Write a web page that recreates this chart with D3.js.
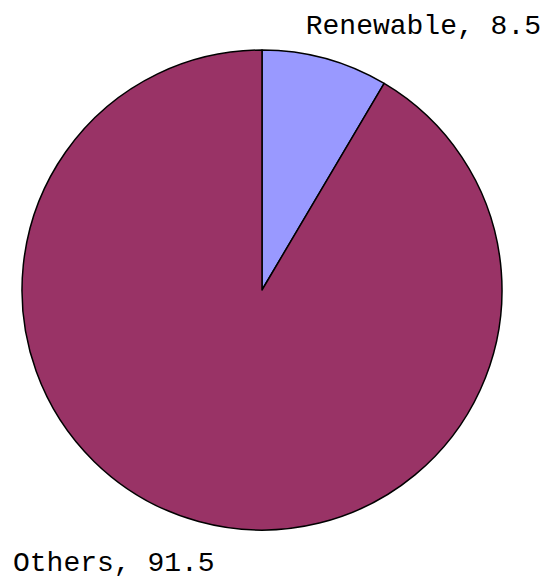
<!DOCTYPE html>
<html>
<head>
<meta charset="utf-8">
<script src="https://cdn.jsdelivr.net/npm/d3@7"></script>
<style>
  html, body { margin: 0; padding: 0; background: #fff; }
  svg text { font-family: "Liberation Mono", "DejaVu Sans Mono", monospace; fill: #000; }
</style>
</head>
<body>
<svg id="chart" width="548" height="579"></svg>
<script>
  // data
  const categories = ['Renewable', 'Others'];
  const values = [8.5, 91.5];
  const colors = ['#9999ff', '#993366'];

  const cx = 262, cy = 290, radius = 240;

  const svg = d3.select('#chart');

  const pie = d3.pie().sort(null).value(d => d.value);
  const arc = d3.arc().innerRadius(0).outerRadius(radius);

  const slices = pie(categories.map((c, i) => ({ name: c, value: values[i], color: colors[i] })));

  const g = svg.append('g').attr('transform', `translate(${cx},${cy})`);

  g.selectAll('path')
    .data(slices)
    .enter()
    .append('path')
      .attr('d', arc)
      .attr('fill', d => d.data.color)
      .attr('stroke', '#000')
      .attr('stroke-width', 1.5)
      .attr('stroke-linejoin', 'round');

  // labels: Renewable at top right, Others at bottom left
  const labelPos = [
    { x: 541, y: 34, anchor: 'end' },
    { x: 13, y: 571, anchor: 'start' }
  ];

  svg.selectAll('text.label')
    .data(slices)
    .enter()
    .append('text')
      .attr('class', 'label')
      .attr('x', (d, i) => labelPos[i].x)
      .attr('y', (d, i) => labelPos[i].y)
      .attr('text-anchor', (d, i) => labelPos[i].anchor)
      .attr('font-size', 28)
      .text(d => `${d.data.name}, ${d.data.value}`);
</script>
</body>
</html>
